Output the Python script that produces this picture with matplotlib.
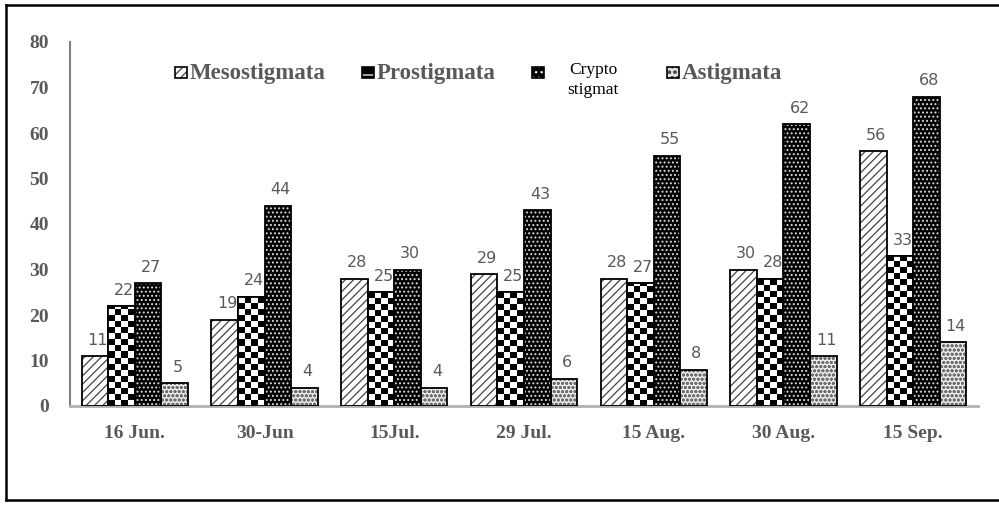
import numpy as np
import matplotlib
matplotlib.use("Agg")
import matplotlib.pyplot as plt
from matplotlib.patches import Rectangle
from matplotlib.lines import Line2D

dates = ["16 Jun.", "30-Jun", "15Jul.", "29 Jul.", "15 Aug.", "30 Aug.", "15 Sep."]
meso = [11, 19, 28, 29, 28, 30, 56]
pro = [22, 24, 25, 25, 27, 28, 33]
crypto = [27, 44, 30, 43, 55, 62, 68]
asti = [5, 4, 4, 6, 8, 11, 14]
yticks = [0, 10, 20, 30, 40, 50, 60, 70, 80]

GRAY = "#595959"
SERIF = "Liberation Serif"

plt.rcParams["hatch.linewidth"] = 0.9

fig = plt.figure(figsize=(9.99, 5.05), dpi=100)
ax = fig.add_axes([70 / 999, 1 - 406 / 505, 908 / 999, 364 / 505])

x = np.arange(len(dates))
w = 0.205
offs = np.array([-1.5, -0.5, 0.5, 1.5]) * w


def hatched(vals, off, face, hcolor, hatch):
    # hatch layer first, black outline drawn over it
    ax.bar(x + off, vals, w, color=face, edgecolor=hcolor, hatch=hatch,
           linewidth=0, zorder=2)
    return ax.bar(x + off, vals, w, facecolor="none", edgecolor="black",
                  linewidth=1.3, zorder=4)


hatched(meso, offs[0], "white", "#444444", "////")
hatched(crypto, offs[2], "black", "#dddddd", "....")
hatched(asti, offs[3], "#ececec", "#707070", "oooo")

# checkerboard for Prostigmata, clipped to each bar
pro_bars = ax.bar(x + offs[1], pro, w, facecolor="white", edgecolor="black",
                  linewidth=1.3, zorder=2)
cell_h = 1.32
nrows = int(np.ceil(80 / cell_h))
checker = (np.add.outer(np.arange(nrows), np.arange(4)) % 2).astype(float)
for rect in pro_bars:
    x0 = rect.get_x()
    im = ax.imshow(checker, cmap="gray", interpolation="nearest", aspect="auto",
                   origin="lower", extent=(x0, x0 + w, 0, nrows * cell_h),
                   zorder=3)
    im.set_clip_path(rect)
ax.bar(x + offs[1], pro, w, facecolor="none", edgecolor="black",
       linewidth=1.3, zorder=4)

# value labels sit behind the bars, so neighbours can cover them a little
for vals, off in zip([meso, pro, crypto, asti], offs):
    for xi, v in zip(x, vals):
        ax.annotate(str(v), (xi + off, v), xytext=(2, 6), textcoords="offset points",
                    ha="center", va="bottom", fontsize=11.5, color=GRAY,
                    family="DejaVu Sans", zorder=1.5)

ax.set_xlim(-0.5, len(dates) - 0.5)
ax.set_ylim(0, 80)
ax.set_yticks(yticks)
ax.set_xticks(x)
ax.set_xticklabels(dates)
ax.tick_params(length=0)
ax.tick_params(axis="y", pad=15)
ax.tick_params(axis="x", pad=14)
for lab in ax.get_xticklabels() + ax.get_yticklabels():
    lab.set_family(SERIF)
    lab.set_fontstyle("normal")
    lab.set_fontweight("bold")
    lab.set_color(GRAY)
for lab in ax.get_xticklabels():
    lab.set_fontsize(14)
for lab in ax.get_yticklabels():
    lab.set_fontsize(14)

for s in ["top", "right"]:
    ax.spines[s].set_visible(False)
ax.spines["left"].set_color("#808080")
ax.spines["left"].set_linewidth(1.5)
ax.spines["bottom"].set_color("#b0b0b0")
ax.spines["bottom"].set_linewidth(2)

# legend row across the top
def fx(px):
    return px / 999


def fy(py):
    return 1 - py / 505


leg = [
    (175, "Mesostigmata", "white", "#444444", "////"),
    (362, "Prostigmata", "black", "white", "+"),
    (532, None, "black", "white", "..."),
    (667, "Astigmata", "#e4e4e4", "#555555", "ooo"),
]
for px, label, face, hc, hatch in leg:
    fig.add_artist(Rectangle((fx(px), fy(78)), 12 / 999, 11 / 505, facecolor=face,
                             edgecolor=hc, hatch=hatch, linewidth=0,
                             transform=fig.transFigure))
    fig.add_artist(Rectangle((fx(px), fy(78)), 12 / 999, 11 / 505, facecolor="none",
                             edgecolor="black", linewidth=1.2,
                             transform=fig.transFigure))
    if label:
        fig.text(fx(px + 15), fy(73), label, ha="left", va="center",
                 family=SERIF, fontweight="bold", fontstyle="normal",
                 fontsize=16.5, color=GRAY)
fig.text(fx(593), fy(80), "Crypto\nstigmat", ha="center", va="center",
         multialignment="center", family=SERIF, fontsize=12.5, color="black",
         linespacing=1.25)

# outer frame (left, top, bottom)
for xs, ys in [([6, 6], [5, 500]), ([6, 999], [5, 5]), ([6, 999], [500, 500])]:
    fig.add_artist(Line2D([fx(v) for v in xs], [fy(v) for v in ys], color="black",
                          linewidth=1.8, transform=fig.transFigure))

fig.savefig("out.png", dpi=100)
